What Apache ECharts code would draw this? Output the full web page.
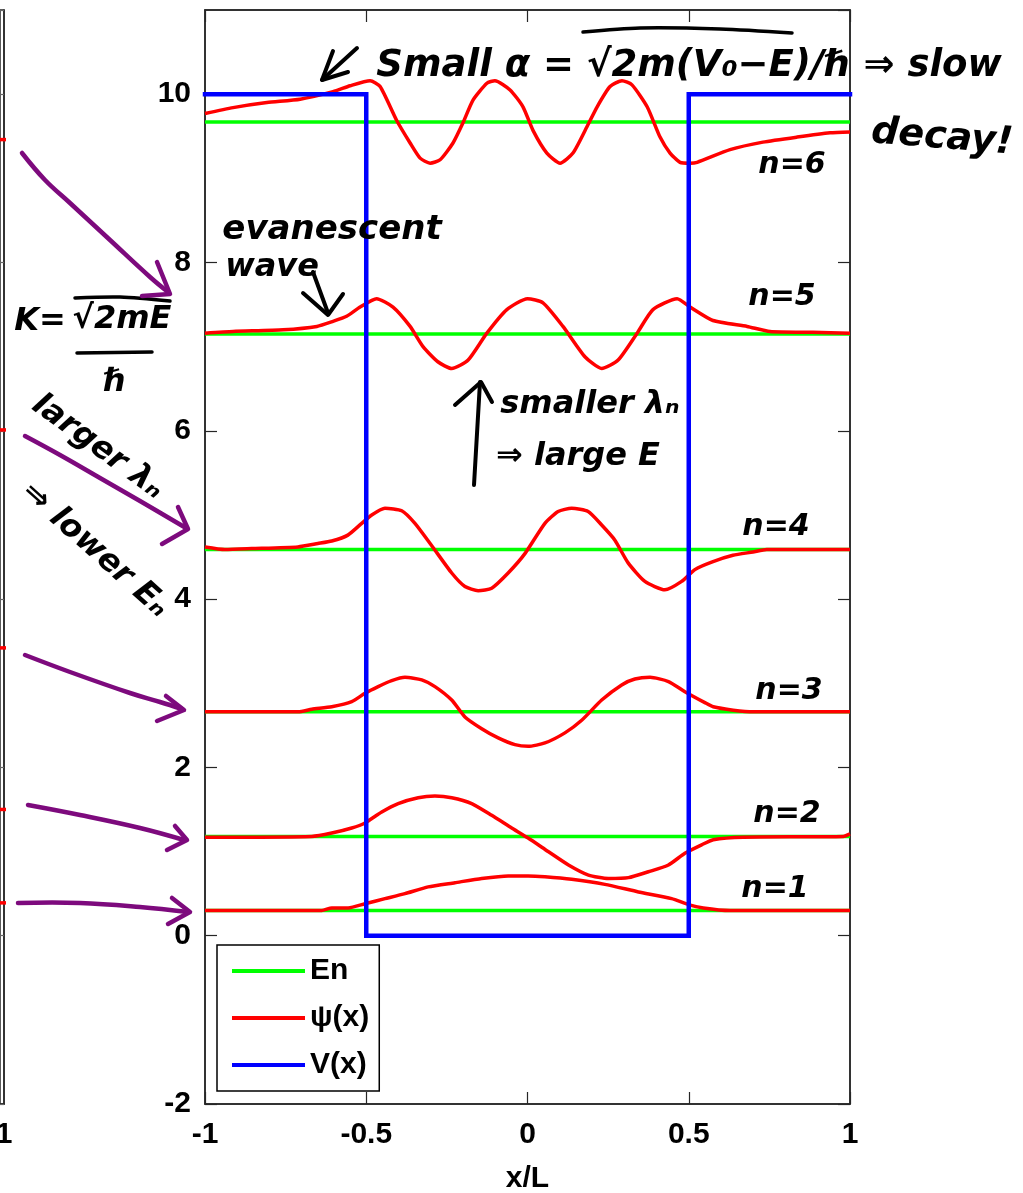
<!DOCTYPE html>
<html>
<head>
<meta charset="utf-8">
<script src="https://cdn.jsdelivr.net/npm/echarts@6/dist/echarts.min.js"></script>
<style>html,body{margin:0;padding:0;background:#fff;}#c{width:1023px;height:1193px;}</style>
</head>
<body>
<div id="c"></div>
<script>
// ---------- data ----------
const xTicks = [-1, -0.5, 0, 0.5, 1];
const yTicks = [-2, 0, 2, 4, 6, 8, 10];
const energies = [0.30, 1.18, 2.66, 4.59, 7.15, 9.67]; // E1..E6
const potX = [-1, -0.5, -0.5, 0.5, 0.5, 1];
const potV = [10, 10, 0, 0, 10, 10];

const psi1 = [[-1,0.30],[-0.638,0.30],[-0.607,0.33],[-0.556,0.33],[-0.504,0.38],[-0.442,0.44],[-0.380,0.50],[-0.308,0.58],[-0.225,0.63],[-0.142,0.68],[-0.060,0.71],[0.002,0.71],[0.054,0.70],[0.137,0.67],[0.240,0.61],[0.344,0.52],[0.447,0.44],[0.499,0.37],[0.545,0.33],[0.628,0.30],[1,0.30]];
const psi2 = [[-1,1.17],[-0.669,1.18],[-0.607,1.22],[-0.545,1.28],[-0.504,1.34],[-0.452,1.47],[-0.401,1.57],[-0.339,1.64],[-0.287,1.66],[-0.235,1.64],[-0.173,1.57],[-0.111,1.43],[-0.049,1.28],[0.002,1.16],[0.064,1.00],[0.127,0.84],[0.189,0.72],[0.251,0.68],[0.313,0.69],[0.375,0.76],[0.437,0.84],[0.488,0.98],[0.540,1.08],[0.576,1.14],[0.669,1.17],[0.979,1.18],[1,1.21]];
const psi3 = [[-1,2.66],[-0.711,2.66],[-0.669,2.69],[-0.607,2.72],[-0.545,2.78],[-0.504,2.88],[-0.463,2.96],[-0.421,3.03],[-0.380,3.07],[-0.328,3.04],[-0.287,2.96],[-0.235,2.80],[-0.194,2.60],[-0.142,2.46],[-0.091,2.35],[-0.039,2.27],[0.002,2.25],[0.054,2.29],[0.116,2.41],[0.168,2.56],[0.230,2.80],[0.292,2.98],[0.333,3.05],[0.380,3.07],[0.437,3.02],[0.488,2.90],[0.550,2.77],[0.576,2.72],[0.638,2.68],[0.700,2.66],[1,2.66]];
const psi4 = [[-1,4.62],[-0.938,4.59],[-0.855,4.60],[-0.712,4.62],[-0.650,4.66],[-0.607,4.69],[-0.557,4.76],[-0.514,4.90],[-0.483,5.00],[-0.442,5.08],[-0.390,5.05],[-0.349,4.90],[-0.298,4.64],[-0.235,4.31],[-0.194,4.15],[-0.153,4.10],[-0.111,4.13],[-0.060,4.31],[-0.008,4.54],[0.054,4.90],[0.095,5.04],[0.137,5.08],[0.188,5.04],[0.230,4.88],[0.271,4.70],[0.312,4.43],[0.364,4.21],[0.426,4.11],[0.478,4.21],[0.519,4.35],[0.571,4.44],[0.637,4.52],[0.699,4.56],[0.742,4.59],[1,4.59]];
const psi5 = [[-1,7.16],[-0.913,7.18],[-0.758,7.20],[-0.653,7.24],[-0.603,7.30],[-0.561,7.36],[-0.519,7.47],[-0.468,7.57],[-0.417,7.47],[-0.364,7.24],[-0.324,7.00],[-0.278,6.82],[-0.235,6.74],[-0.184,6.84],[-0.126,7.16],[-0.064,7.44],[0.0,7.57],[0.048,7.52],[0.110,7.24],[0.178,6.88],[0.230,6.74],[0.281,6.84],[0.340,7.16],[0.389,7.44],[0.464,7.57],[0.504,7.47],[0.575,7.31],[0.681,7.24],[0.752,7.18],[0.885,7.17],[1,7.16]];
const psi6 = [[-1,9.77],[-0.913,9.84],[-0.808,9.90],[-0.705,9.94],[-0.603,10.03],[-0.550,10.10],[-0.488,10.16],[-0.457,10.09],[-0.406,9.69],[-0.364,9.42],[-0.333,9.24],[-0.302,9.18],[-0.271,9.22],[-0.231,9.42],[-0.200,9.66],[-0.169,9.93],[-0.126,10.13],[-0.101,10.16],[-0.054,10.05],[-0.014,9.85],[0.017,9.57],[0.060,9.30],[0.101,9.18],[0.141,9.30],[0.184,9.61],[0.216,9.85],[0.256,10.09],[0.293,10.16],[0.324,10.11],[0.371,9.85],[0.411,9.49],[0.442,9.30],[0.473,9.19],[0.504,9.18],[0.526,9.19],[0.628,9.34],[0.730,9.43],[0.836,9.49],[0.938,9.54],[1,9.55]];
const psiAll = [psi1, psi2, psi3, psi4, psi5, psi6];
const levelLabels = ['n=1', 'n=2', 'n=3', 'n=4', 'n=5', 'n=6'];
// neighbouring (cut-off) panel: right-edge values of its curves
const leftPanelEdge = [9.46, 6.01, 3.42, 1.50, 0.39];
const legendNames = ['En', 'ψ(x)', 'V(x)'];

// ---------- styles ----------
const AX = '"Liberation Sans", Arial, sans-serif';
const HAND = '"DejaVu Sans", "Noto Sans", sans-serif';
const GREEN = '#00ff00', RED = '#ff0000', BLUE = '#0000ff', PURPLE = '#7d0a7d', FRAME = '#262626';

const chart = echarts.init(document.getElementById('c'), null, {renderer: 'canvas'});

const series = [];
energies.forEach((e, i) => {
  series.push({type: 'line', name: legendNames[0], xAxisIndex: 0, yAxisIndex: 0,
    data: [[xTicks[0], e], [xTicks[xTicks.length - 1], e]], showSymbol: false, symbol: 'none',
    lineStyle: {color: GREEN, width: 3.5}, itemStyle: {color: GREEN}, z: 2, silent: true, animation: false});
});
psiAll.forEach((p, i) => {
  series.push({type: 'line', name: legendNames[1], xAxisIndex: 0, yAxisIndex: 0, data: p,
    showSymbol: false, symbol: 'none', smooth: 0.2,
    lineStyle: {color: RED, width: 3.5}, itemStyle: {color: RED}, z: 3, silent: true, animation: false});
});
series.push({type: 'line', name: legendNames[2], xAxisIndex: 0, yAxisIndex: 0,
  data: potX.map((x, i) => [x, potV[i]]), showSymbol: false, symbol: 'none',
  lineStyle: {color: BLUE, width: 4.5, join: 'miter', cap: 'square'}, itemStyle: {color: BLUE}, z: 4, silent: true, animation: false});
leftPanelEdge.forEach(v => {
  series.push({type: 'line', name: 'left', xAxisIndex: 2, yAxisIndex: 2, data: [[-2, v], [1.5, v]],
    showSymbol: false, symbol: 'none', clip: false, lineStyle: {color: RED, width: 3.5}, z: 3, silent: true, animation: false});
});

const axisLabelStyle = {fontFamily: AX, fontWeight: 'bold', fontSize: 30, color: '#000'};
const tickStyle = {show: true, inside: true, length: 12, lineStyle: {color: FRAME, width: 1.2}};
const lineStyleAx = {show: true, onZero: false, lineStyle: {color: FRAME, width: 1.5}};

// handwritten annotations
const txt = (text, x, y, size, rot) => ({type: 'text', x: x, y: y, rotation: rot || 0, z: 100,
  style: {text: text, fontFamily: HAND, fontWeight: 'bold', fontStyle: 'italic', fontSize: size, fill: '#000', align: 'center', verticalAlign: 'middle'}});
const pl = (pts, color, w, smooth) => ({type: 'polyline', z: 100, shape: {points: pts, smooth: smooth || 0},
  style: {stroke: color, lineWidth: w, fill: null, lineCap: 'round', lineJoin: 'round'}});

const graphics = [
  // top formula
  txt('Small α = √2m(V₀−E)/ℏ ⇒ slow', 689, 66, 37),
  pl([[583, 32], [640, 28], [720, 29], [792, 33]], '#000', 3.5, 0.3),
  txt('decay!', 942, 138, 38, -0.08),
  pl([[357, 48], [322, 80]], '#000', 4),
  pl([[333, 51], [322, 80], [348, 72]], '#000', 4),
  // level labels
  txt('n=6', 792, 165, 30), txt('n=5', 782, 297, 30), txt('n=4', 776, 527, 30),
  txt('n=3', 789, 691, 30), txt('n=2', 787, 814, 30), txt('n=1', 775, 889, 30),
  // evanescent wave
  txt('evanescent', 332, 230, 34), txt('wave', 272, 268, 32),
  pl([[313, 272], [328, 313]], '#000', 4), pl([[303, 293], [328, 315], [343, 294]], '#000', 4),
  // K = sqrt(2mE)/hbar
  txt('K=', 40, 322, 32), txt('√2mE', 122, 320, 32),
  pl([[75, 298], [120, 297], [170, 301]], '#000', 3.5, 0.3),
  pl([[77, 353], [152, 352]], '#000', 3.5), txt('ℏ', 115, 383, 32),
  // larger lambda -> lower E
  txt('larger λₙ', 98, 447, 32, -0.63), txt('⇒ lower Eₙ', 95, 550, 32, -0.73),
  // smaller lambda -> larger E
  pl([[474, 485], [480, 382]], '#000', 4), pl([[455, 405], [481, 382], [492, 402]], '#000', 4),
  txt('smaller λₙ', 590, 405, 32), txt('⇒ large E', 578, 457, 32),
  // purple arrows
  pl([[22, 153], [45, 180], [70, 203], [110, 240], [150, 277], [168, 292]], PURPLE, 4.5, 0.4),
  pl([[157, 262], [170, 294], [142, 296]], PURPLE, 4.5),
  pl([[25, 436], [60, 455], [100, 478], [140, 501], [186, 528]], PURPLE, 4.5, 0.4),
  pl([[178, 507], [188, 529], [162, 544]], PURPLE, 4.5),
  pl([[25, 655], [70, 672], [130, 693], [160, 702], [182, 709]], PURPLE, 4.5, 0.4),
  pl([[166, 696], [184, 710], [157, 721]], PURPLE, 4.5),
  pl([[28, 805], [80, 815], [140, 828], [184, 840]], PURPLE, 4.5, 0.4),
  pl([[175, 826], [187, 840], [167, 850]], PURPLE, 4.5),
  pl([[18, 903], [80, 903], [140, 907], [188, 912]], PURPLE, 4.5, 0.4),
  pl([[172, 898], [190, 912], [168, 924]], PURPLE, 4.5)
];

const option = {
  animation: false,
  backgroundColor: '#fff',
  grid: [
    {left: 205, top: 10, width: 645, height: 1094, show: true, borderColor: FRAME, borderWidth: 1.5,
      backgroundColor: 'transparent', containLabel: false, outerBoundsMode: 'none'},
    {left: 0, top: 10, width: 4, height: 1094, show: true, borderColor: FRAME, borderWidth: 1.5,
      backgroundColor: 'transparent', containLabel: false, outerBoundsMode: 'none'}
  ],
  xAxis: [
    {gridIndex: 0, type: 'value', min: xTicks[0], max: xTicks[xTicks.length - 1], interval: 0.5, position: 'bottom',
      axisLine: lineStyleAx, axisTick: tickStyle, splitLine: {show: false},
      axisLabel: Object.assign({margin: 16}, axisLabelStyle),
      name: 'x/L', nameLocation: 'middle', nameGap: 60, nameTextStyle: axisLabelStyle},
    {gridIndex: 0, type: 'value', min: -1, max: 1, interval: 0.5, position: 'top',
      axisLine: lineStyleAx, axisTick: tickStyle, splitLine: {show: false}, axisLabel: {show: false}},
    {gridIndex: 1, type: 'value', min: 0, max: 1, interval: 1, position: 'bottom',
      axisLine: lineStyleAx, axisTick: {show: false}, splitLine: {show: false},
      axisLabel: Object.assign({margin: 16, showMinLabel: false}, axisLabelStyle)}
  ],
  yAxis: [
    {gridIndex: 0, type: 'value', min: yTicks[0], max: 11, interval: 2, position: 'left',
      axisLine: lineStyleAx, axisTick: tickStyle, splitLine: {show: false},
      axisLabel: Object.assign({margin: 14, showMaxLabel: false}, axisLabelStyle)},
    {gridIndex: 0, type: 'value', min: -2, max: 11, interval: 2, position: 'right',
      axisLine: lineStyleAx, axisTick: tickStyle, splitLine: {show: false}, axisLabel: {show: false}},
    {gridIndex: 1, type: 'value', min: -2, max: 11, interval: 2, position: 'right',
      axisLine: lineStyleAx, axisTick: {show: true, inside: true, length: 12, lineStyle: {color: '#666', width: 1.2}},
      splitLine: {show: false}, axisLabel: {show: false}}
  ],
  legend: {
    data: legendNames, orient: 'vertical', left: 217, top: 945,
    padding: [8, 10, 8, 15], itemWidth: 73, itemHeight: 4, itemGap: 11, icon: 'rect',
    textStyle: {fontFamily: AX, fontWeight: 'bold', fontSize: 30, color: '#000', lineHeight: 36},
    backgroundColor: '#fff', borderColor: '#000', borderWidth: 1.5, borderRadius: 0, selectedMode: false
  },
  series: series,
  graphic: graphics
};
chart.setOption(option);
</script>
</body>
</html>
